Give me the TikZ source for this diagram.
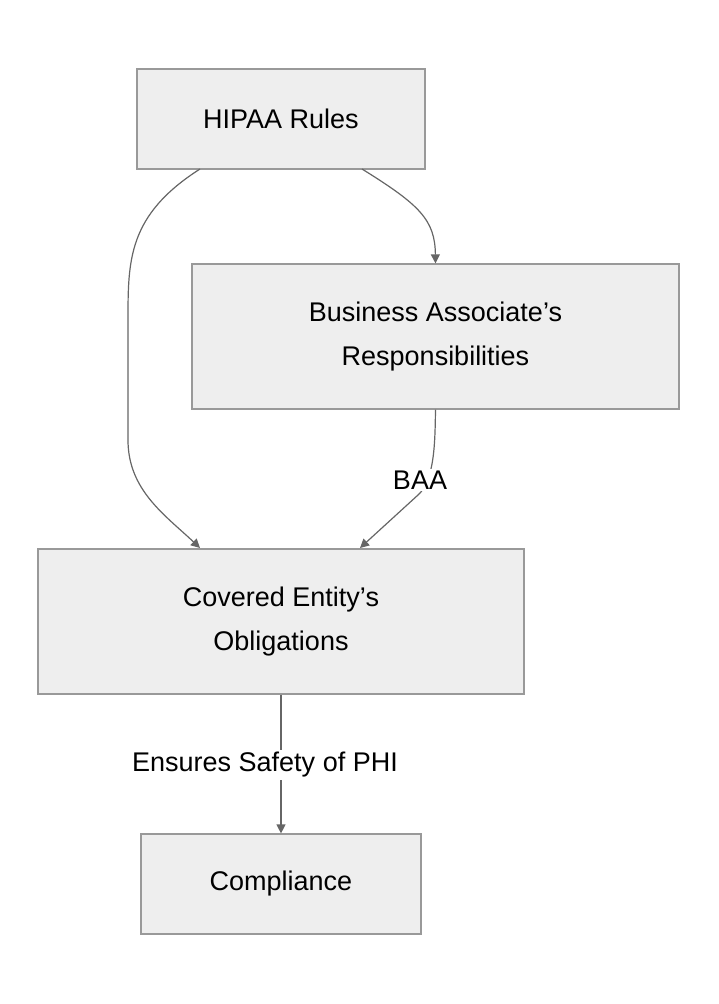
\documentclass[tikz,border=0pt]{standalone}
\usepackage{fontspec}
\setmainfont{Liberation Sans}
\usetikzlibrary{arrows.meta}
\definecolor{boxfill}{HTML}{EEEEEE}
\definecolor{boxline}{HTML}{999999}
\definecolor{edge}{HTML}{666666}
\newcommand{\apos}{{\char"27}}
\begin{document}
\begin{tikzpicture}[x=1pt,y=-1pt,
  box/.style={draw=boxline,fill=boxfill,line width=1.2pt,align=center,font=\fontsize{27}{44}\selectfont,inner sep=0pt},
  conn/.style={draw=edge,line width=1.2pt,-{Triangle[length=9pt,width=9pt]}},
  lbl/.style={fill=white,font=\fontsize{27}{30}\selectfont,inner sep=2pt}]
\useasboundingbox (0,0) rectangle (718,1004);
\node[box,minimum width=288pt,minimum height=100pt] (h) at (281,119) {HIPAA Rules};
\node[box,minimum width=487pt,minimum height=145pt] (b) at (435.5,336.5) {Business Associate\apos s\\Responsibilities};
\node[box,minimum width=486pt,minimum height=145pt] (c) at (281,621.5) {Covered Entity\apos s\\Obligations};
\node[box,minimum width=280pt,minimum height=100pt] (p) at (281,884) {Compliance};
\coordinate (h1) at (200,169);
\coordinate (h2) at (362,169);
\coordinate (c1) at (200,548);
\coordinate (c2) at (360,548);
\draw[conn] (h1) .. controls (128,215) and (128,260) .. (128,320) -- (128,440) .. controls (128,490) and (165,515) .. (c1);
\draw[conn] (h2) .. controls (420,205) and (435,220) .. (b.north);
\draw[conn] (b.south) .. controls (435,440) and (435,480) .. (418,495) -- (c2);
\node[lbl] (l1) at (420,480) {BAA};
\draw[conn] (c.south) -- (p.north);
\node[lbl] (l2) at (265,765) {Ensures Safety of PHI};
\end{tikzpicture}
\end{document}
